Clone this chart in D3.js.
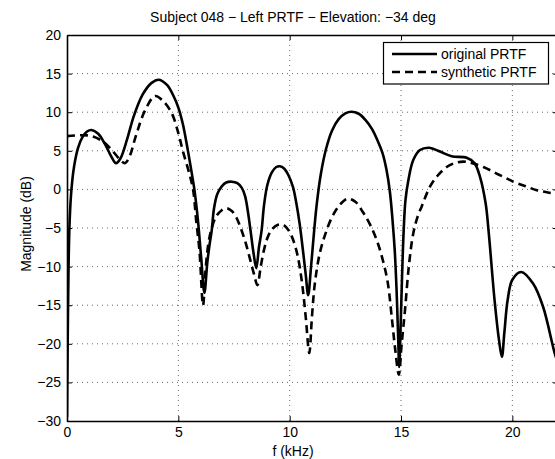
<!DOCTYPE html>
<html>
<head>
<meta charset="utf-8">
<script src="https://cdn.jsdelivr.net/npm/d3@7"></script>
<style>
  body { margin:0; background:#fff; }
  text { font-family: "Liberation Sans", Arial, sans-serif; fill:#000; }
</style>
</head>
<body>
<div id="chart"></div>
<script>
// original PRTF [kHz, dB]
var original = [
  [0,-29.5],[0.03,-20],[0.07,-10],[0.12,-4],[0.2,0],[0.32,3],[0.5,5.4],[0.7,6.8],[0.9,7.5],
  [1.1,7.7],[1.4,7.2],[1.7,5.9],[2.0,4.2],[2.2,3.4],[2.4,4.0],[2.7,6.5],[3.0,9.5],[3.4,12.3],
  [3.8,13.8],[4.13,14.2],[4.5,13.5],[4.8,12.0],[5.0,10.6],[5.2,8.5],[5.4,5.5],[5.58,2.5],
  [5.72,0],[5.88,-4],[6.03,-9],[6.17,-13.4],[6.3,-9.5],[6.4,-7.2],[6.5,-5.3],[6.6,-2.5],
  [6.75,-0.6],[6.95,0.4],[7.15,0.9],[7.4,1.0],[7.65,0.8],[7.85,0.2],[8.0,-0.9],[8.12,-2.8],
  [8.25,-5.5],[8.38,-8.3],[8.5,-10.2],[8.62,-7.5],[8.74,-5.3],[8.85,-2],[9.0,0.6],[9.2,2.2],
  [9.4,2.9],[9.56,3.0],[9.75,2.7],[9.95,1.8],[10.15,0.3],[10.3,-1.8],[10.45,-4.5],[10.6,-8],
  [10.72,-11],[10.83,-13.7],[10.96,-10],[11.1,-5.3],[11.22,-1.8],[11.4,2],[11.63,5.2],
  [11.9,7.6],[12.2,9.1],[12.5,9.85],[12.78,10.06],[13.1,9.8],[13.4,9.0],[13.7,7.8],
  [13.95,6.3],[14.18,4.6],[14.35,2.5],[14.5,-0.3],[14.62,-4],[14.72,-8],[14.8,-13],
  [14.87,-19],[14.92,-23],[14.98,-18],[15.05,-11],[15.12,-5.3],[15.2,-1.4],[15.33,1.2],
  [15.55,3.8],[15.85,5.1],[16.27,5.4],[16.75,4.9],[17.27,4.3],[17.95,4.1],[18.3,3.4],
  [18.55,1.6],[18.8,-1.8],[18.93,-5.3],[19.2,-14.3],[19.4,-19.5],[19.53,-21.7],[19.64,-18.6],
  [19.79,-14.3],[20.0,-11.7],[20.4,-10.7],[20.93,-12.2],[21.38,-15.2],[21.9,-21.2],[22.05,-22.5]
];

// synthetic PRTF [kHz, dB]
var synthetic = [
  [0,6.9],[0.5,7.0],[0.9,7.0],[1.3,6.7],[1.7,6.0],[2.1,4.8],[2.4,3.8],[2.6,3.4],[2.8,4.2],
  [3.1,7.0],[3.5,10.2],[3.95,12.1],[4.3,11.5],[4.7,9.9],[5.0,7.3],[5.2,5],[5.45,2.5],
  [5.66,0],[5.8,-4],[5.95,-8],[6.11,-15],[6.22,-10.5],[6.35,-7],[6.5,-5],[6.7,-3.5],
  [6.95,-2.7],[7.17,-2.45],[7.4,-2.8],[7.6,-3.6],[7.8,-5],[8.0,-6.7],[8.2,-8.8],[8.4,-11],
  [8.55,-12.4],[8.7,-10],[8.85,-7.8],[9.0,-6.3],[9.2,-5.2],[9.45,-4.6],[9.71,-4.6],
  [9.95,-5.3],[10.15,-6.5],[10.35,-8.5],[10.55,-12],[10.72,-16.5],[10.88,-21.2],[11.0,-16.5],
  [11.13,-12.2],[11.35,-8.3],[11.6,-5.8],[11.9,-3.6],[12.25,-2],[12.6,-1.2],[12.95,-1.6],
  [13.3,-3.0],[13.6,-4.5],[13.9,-6.5],[14.15,-8.8],[14.4,-12],[14.6,-17],[14.75,-21],
  [14.9,-24],[15.03,-20],[15.18,-15.6],[15.35,-10],[15.55,-5.7],[15.75,-3.5],[15.93,-2.2],
  [16.3,0.35],[16.65,1.8],[17.05,2.9],[17.4,3.4],[17.8,3.6],[18.2,3.4],[18.7,2.9],
  [19.4,1.9],[20.05,1.0],[20.6,0.4],[21.1,-0.1],[21.6,-0.4],[22.05,-0.6]
];

var xTicks = [0, 5, 10, 15, 20];
var yTicks = [-30, -25, -20, -15, -10, -5, 0, 5, 10, 15, 20];
var seriesNames = ["original PRTF", "synthetic PRTF"];

(function () {
  var W = 555, H = 459;
  var m = { left: 67, right: 558, top: 35, bottom: 421 };

  var svg = d3.select("#chart").append("svg")
      .attr("width", W).attr("height", H);

  var x = d3.scaleLinear().domain([0, 22.05]).range([m.left, m.right]);
  var y = d3.scaleLinear().domain([-30, 20]).range([m.bottom, m.top]);

  // grid (dotted)
  svg.append("g").selectAll("line")
      .data(xTicks.filter(function(d){ return d > 0; }))
      .enter().append("line")
      .attr("x1", function(d){ return x(d); }).attr("x2", function(d){ return x(d); })
      .attr("y1", m.top).attr("y2", m.bottom)
      .style("stroke", "#000").style("stroke-width", 0.6)
      .style("stroke-dasharray", "1,4");
  svg.append("g").selectAll("line")
      .data(yTicks.filter(function(d){ return d > -30 && d < 20; }))
      .enter().append("line")
      .attr("y1", function(d){ return y(d); }).attr("y2", function(d){ return y(d); })
      .attr("x1", m.left).attr("x2", m.right)
      .style("stroke", "#000").style("stroke-width", 0.6)
      .style("stroke-dasharray", "1,4");

  svg.append("clipPath").attr("id", "clip")
    .append("rect").attr("x", m.left).attr("y", m.top)
    .attr("width", m.right - m.left).attr("height", m.bottom - m.top);

  var line = d3.line()
      .x(function(d){ return x(d[0]); })
      .y(function(d){ return y(d[1]); })
      .curve(d3.curveCatmullRom.alpha(0.5));

  var plot = svg.append("g").attr("clip-path", "url(#clip)");
  plot.append("path").datum(synthetic)
      .attr("d", line)
      .style("fill", "none").style("stroke", "#000")
      .style("stroke-width", 2.6).style("stroke-dasharray", "8,5");
  plot.append("path").datum(original)
      .attr("d", line)
      .style("fill", "none").style("stroke", "#000")
      .style("stroke-width", 2.6);

  // axes box, ticks pointing inward
  var xb = d3.axisBottom(x).tickValues(xTicks).tickSizeInner(-5).tickSizeOuter(0).tickPadding(6);
  var xt = d3.axisTop(x).tickValues(xTicks).tickSizeInner(-5).tickSizeOuter(0).tickFormat("");
  var yl = d3.axisLeft(y).tickValues(yTicks).tickSizeInner(-5).tickSizeOuter(0).tickPadding(6)
      .tickFormat(function(d){ return d < 0 ? "\u2212" + Math.abs(d) : d; });
  var yr = d3.axisRight(y).tickValues(yTicks).tickSizeInner(-5).tickSizeOuter(0).tickFormat("");

  function styleAxis(g) {
    g.select(".domain").style("stroke", "#000").style("stroke-width", 1.6);
    g.selectAll(".tick line").style("stroke", "#000").style("stroke-width", 1);
    g.selectAll("text").style("font-size", "14px")
      .style("font-family", "'Liberation Sans', Arial, sans-serif");
  }
  svg.append("g").attr("transform", "translate(0," + m.bottom + ")").call(xb).call(styleAxis);
  svg.append("g").attr("transform", "translate(0," + m.top + ")").call(xt).call(styleAxis);
  svg.append("g").attr("transform", "translate(" + m.left + ",0)").call(yl).call(styleAxis);
  svg.append("g").attr("transform", "translate(" + m.right + ",0)").call(yr).call(styleAxis);

  // labels
  svg.append("text").attr("x", 293).attr("y", 22)
      .attr("text-anchor", "middle").style("font-size", "14px")
      .text("Subject 048 \u2212 Left PRTF \u2212 Elevation: \u221234 deg");
  svg.append("text").attr("x", 293).attr("y", 456)
      .attr("text-anchor", "middle").style("font-size", "14px")
      .text("f (kHz)");
  svg.append("text")
      .attr("transform", "translate(31,224) rotate(-90)")
      .attr("text-anchor", "middle").style("font-size", "14px")
      .text("Magnitude (dB)");

  // legend
  var lg = svg.append("g");
  lg.append("rect").attr("x", 383.5).attr("y", 42.5).attr("width", 165).attr("height", 41.5)
      .style("fill", "#fff").style("stroke", "#000").style("stroke-width", 1.2);
  seriesNames.forEach(function(name, i) {
    var ly = 54 + i * 18;
    lg.append("line").attr("x1", 392).attr("x2", 437).attr("y1", ly).attr("y2", ly)
      .style("stroke", "#000").style("stroke-width", 2.6)
      .style("stroke-dasharray", i === 0 ? null : "8,5");
    lg.append("text").attr("x", 441).attr("y", ly + 5)
      .style("font-size", "14px").text(name);
  });
})();
</script>
</body>
</html>
